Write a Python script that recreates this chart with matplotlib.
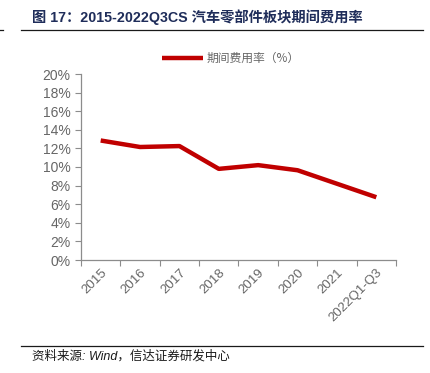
import matplotlib
matplotlib.use('Agg')
import matplotlib.pyplot as plt
from matplotlib.ticker import FuncFormatter

plt.rcParams['font.family'] = ['Liberation Sans', 'Noto Sans CJK SC', 'DejaVu Sans']

# data
categories = ['2015', '2016', '2017', '2018', '2019', '2020', '2021', '2022Q1-Q3']
expense_rate = [12.85, 12.15, 12.25, 9.8, 10.2, 9.65, 8.2, 6.75]
y_ticks = list(range(0, 21, 2))

W, H = 431, 373
fig = plt.figure(figsize=(W / 100, H / 100), dpi=100)

gray = '#8c8c8c'
lab = '#666666'
ax = fig.add_axes([81 / W, 1 - 260 / H, (396 - 81) / W, (260 - 74) / H])
x = [i + 0.5 for i in range(len(categories))]
ax.plot(x, expense_rate, color='#c00000', lw=3.2, solid_capstyle='butt',
        label='期间费用率（%）')
ax.set_xlim(0, len(categories))
ax.set_ylim(0, 20)
ax.set_yticks(y_ticks)
ax.yaxis.set_major_formatter(FuncFormatter(lambda v, p: f'{v:.0f}%'))
ax.set_xticks(range(len(categories) + 1))
ax.set_xticklabels([])
ax.set_xticks(x, minor=True)
ax.set_xticklabels(categories, minor=True, rotation=45, ha='right',
                   rotation_mode='anchor', fontsize=9.5, color=lab)
ax.tick_params(axis='x', which='minor', length=0, pad=5)
ax.tick_params(axis='x', which='major', length=4, color=gray, direction='out')
ax.tick_params(axis='y', length=4, color=gray, labelsize=10, labelcolor=lab)
for s in ['top', 'right']:
    ax.spines[s].set_visible(False)
for s in ['left', 'bottom']:
    ax.spines[s].set_color(gray)
    ax.spines[s].set_linewidth(0.9)

leg = ax.legend(loc='lower center', bbox_to_anchor=(0.475, 0.99), frameon=False,
                handlelength=3.5, handletextpad=0.3,
                prop={'family': ['Noto Sans CJK SC', 'DejaVu Sans'], 'size': 8.5})
for t in leg.get_texts():
    t.set_color(lab)

# title
fig.text(32 / W, 1 - 17 / H, '图 17：2015-2022Q3CS 汽车零部件板块期间费用率',
         fontsize=10.3, fontweight='bold', color='#1f2d5a', va='center',
         family=['Liberation Sans', 'Noto Sans CJK SC'])
fig.add_artist(plt.Line2D([21 / W, 423 / W], [1 - 30 / H, 1 - 30 / H],
                          color='#1a1a1a', lw=0.9))
fig.add_artist(plt.Line2D([0, 3 / W], [1 - 30 / H, 1 - 30 / H],
                          color='#1a1a1a', lw=0.9))
fig.add_artist(plt.Line2D([21 / W, 423 / W], [1 - 346 / H, 1 - 346 / H],
                          color='#1a1a1a', lw=0.9))
fig.text(32 / W, 1 - 356 / H, '资料来源: Wind，信达证券研发中心',
         fontsize=9, style='italic', color='#1a1a1a', va='center',
         family=['Liberation Sans', 'Noto Sans CJK SC'])

fig.savefig('out.png', dpi=100)
